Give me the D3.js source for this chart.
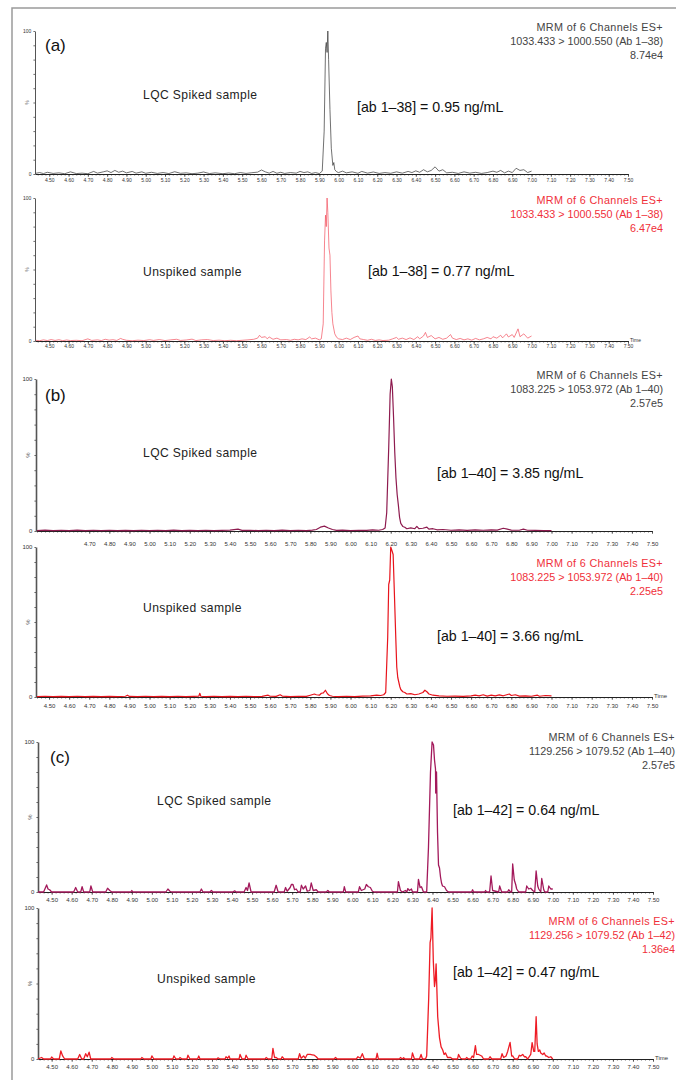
<!DOCTYPE html>
<html>
<head>
<meta charset="utf-8">
<script src="https://d3js.org/d3.v7.min.js"></script>
<style>
  body { margin: 0; background: #fff; }
  svg text { font-family: "Liberation Sans", Arial, sans-serif; }
  .tick text { fill: #333; }
</style>
</head>
<body>
<script>
// ---------- data: [time (min), intensity %] ----------
var xTicks = [4.5, 4.6, 4.7, 4.8, 4.9, 5.0, 5.1, 5.2, 5.3, 5.4, 5.5, 5.6, 5.7, 5.8, 5.9,
              6.0, 6.1, 6.2, 6.3, 6.4, 6.5, 6.6, 6.7, 6.8, 6.9, 7.0, 7.1, 7.2, 7.3, 7.4, 7.5];

var aSpiked = [[4.43,0.5],[4.45,1],[4.47,0.3],[4.49,1.2],[4.52,0.4],[4.55,0.8],[4.58,0.2],[4.61,1.5],[4.64,0.3],[4.67,0.6],
  [4.70,0.2],[4.73,1.8],[4.75,0.6],[4.78,1.5],[4.80,2.2],[4.82,1.0],[4.84,2.5],[4.86,1.2],[4.88,2.0],[4.90,0.8],
  [4.93,1.8],[4.95,0.6],[4.98,1.5],[5.00,0.5],[5.03,1.2],[5.06,0.4],[5.09,1.0],[5.12,0.3],[5.15,1.6],[5.18,0.5],
  [5.21,0.8],[5.24,0.2],[5.27,0.6],[5.30,1.4],[5.33,0.3],[5.36,0.8],[5.40,0.2],[5.43,0.7],[5.46,0.2],[5.49,1.0],
  [5.52,0.4],[5.55,0.9],[5.58,1.3],[5.60,2.8],[5.62,1.5],[5.64,0.6],[5.66,1.8],[5.68,0.5],[5.70,1.2],[5.72,0.4],
  [5.75,1.0],[5.78,0.6],[5.80,1.8],[5.82,1.0],[5.84,1.5],[5.86,0.4],[5.88,1.0],[5.90,0.3],[5.915,2],[5.925,30],
  [5.932,88],[5.936,92],[5.94,85],[5.944,100],[5.948,80],[5.955,45],[5.962,18],[5.97,6],[5.975,8],[5.98,3],
  [5.99,1.5],[6.00,1.0],[6.02,2.0],[6.04,0.8],[6.07,1.5],[6.10,0.5],[6.12,1.8],[6.15,0.6],[6.18,1.4],[6.21,0.4],
  [6.24,1.0],[6.27,0.5],[6.30,1.5],[6.33,0.6],[6.36,1.8],[6.38,1.0],[6.40,2.2],[6.42,1.2],[6.44,3.0],[6.46,1.5],
  [6.48,2.5],[6.50,5.0],[6.52,2.0],[6.54,3.0],[6.56,0.8],[6.59,1.2],[6.62,0.4],[6.65,1.5],[6.68,0.6],[6.71,1.2],
  [6.74,0.4],[6.77,1.0],[6.80,2.0],[6.82,1.2],[6.84,2.5],[6.86,0.8],[6.88,2.0],[6.90,1.0],[6.92,4.0],[6.94,2.5],
  [6.96,3.0],[6.98,1.0],[7.00,2.0]];

var aUnspiked = [[4.43,0.5],[4.45,0.2],[4.47,0.8],[4.49,0.3],[4.51,1.0],[4.53,0.4],[4.55,0.9],[4.57,0.2],[4.59,0.7],[4.61,0.3],
  [4.64,0.5],[4.67,0.2],[4.70,1.5],[4.72,0.4],[4.75,0.8],[4.77,0.3],[4.79,1.2],[4.81,0.6],[4.83,0.9],[4.85,0.4],
  [4.87,1.8],[4.88,1.2],[4.90,0.5],[4.93,0.2],[4.96,0.6],[4.99,0.3],[5.02,0.9],[5.04,0.4],[5.07,1.0],[5.10,0.3],
  [5.13,0.8],[5.16,1.2],[5.18,0.4],[5.21,0.7],[5.24,1.3],[5.26,0.3],[5.29,0.8],[5.32,1.0],[5.35,0.3],[5.38,0.6],
  [5.41,0.2],[5.44,0.5],[5.47,0.2],[5.50,0.5],[5.53,0.8],[5.56,1.2],[5.58,2.0],[5.59,4.0],[5.60,2.5],[5.62,3.0],
  [5.63,1.5],[5.64,2.8],[5.66,1.2],[5.68,2.0],[5.70,0.8],[5.73,1.0],[5.75,0.5],[5.77,1.2],[5.79,0.8],[5.81,1.5],
  [5.83,1.0],[5.85,2.8],[5.86,1.5],[5.88,2.0],[5.90,0.8],[5.91,1.5],[5.92,12],[5.927,70],[5.932,88],[5.936,80],
  [5.94,100],[5.944,90],[5.95,65],[5.955,60],[5.96,35],[5.965,20],[5.97,12],[5.98,5],[5.99,2.5],[6.00,1.5],
  [6.02,1.0],[6.04,2.0],[6.06,1.0],[6.08,2.5],[6.10,3.5],[6.11,1.5],[6.13,1.0],[6.15,0.5],[6.17,1.2],[6.19,0.4],
  [6.21,0.8],[6.23,0.3],[6.26,0.6],[6.28,1.5],[6.30,2.5],[6.31,1.2],[6.33,2.0],[6.35,1.0],[6.37,2.2],[6.39,1.0],
  [6.41,3.0],[6.42,1.5],[6.44,3.5],[6.45,6.0],[6.46,2.5],[6.48,3.8],[6.50,1.5],[6.52,2.5],[6.54,1.2],[6.56,2.0],
  [6.58,4.5],[6.59,2.0],[6.61,1.0],[6.63,1.8],[6.65,0.8],[6.67,1.5],[6.69,0.6],[6.71,1.8],[6.73,0.8],[6.75,1.5],
  [6.77,2.5],[6.79,1.5],[6.80,3.0],[6.82,2.0],[6.84,4.0],[6.85,2.2],[6.87,5.0],[6.88,2.8],[6.90,4.5],[6.91,2.5],
  [6.93,8.5],[6.94,3.0],[6.96,5.0],[6.98,2.0],[7.00,3.5]];

var bSpiked = [[4.44,0.3],[4.48,0.6],[4.52,0.2],[4.56,0.5],[4.60,0.2],[4.64,0.6],[4.68,0.3],[4.72,0.5],[4.76,0.2],[4.80,0.5],
  [4.84,0.3],[4.88,0.4],[4.92,0.2],[4.96,0.5],[5.00,0.3],[5.04,0.5],[5.08,0.2],[5.12,0.6],[5.16,0.3],[5.20,0.4],
  [5.24,0.2],[5.28,0.5],[5.32,0.3],[5.36,0.4],[5.40,0.6],[5.44,1.2],[5.46,0.4],[5.50,0.5],[5.54,0.2],[5.58,0.5],
  [5.62,0.3],[5.66,0.6],[5.70,0.2],[5.74,0.5],[5.78,0.3],[5.81,0.6],[5.83,1.0],[5.85,2.5],[5.87,3.2],[5.89,2.0],
  [5.91,1.0],[5.93,0.4],[5.96,0.6],[6.00,0.3],[6.04,0.5],[6.08,0.4],[6.11,0.8],[6.14,0.5],[6.16,1.0],[6.172,2.0],
  [6.18,12],[6.19,55],[6.197,90],[6.203,100],[6.208,95],[6.214,75],[6.22,52],[6.226,35],[6.232,24],[6.238,17],
  [6.244,9],[6.25,5],[6.26,3.0],[6.27,2.5],[6.28,1.5],[6.30,2.0],[6.32,1.5],[6.33,3.0],[6.34,1.5],[6.36,1.8],
  [6.38,2.5],[6.39,1.2],[6.41,1.5],[6.43,0.8],[6.46,1.0],[6.50,0.5],[6.54,0.8],[6.58,0.4],[6.62,0.7],[6.66,0.5],
  [6.70,0.8],[6.73,0.6],[6.76,1.8],[6.78,1.2],[6.80,0.6],[6.84,0.5],[6.86,1.2],[6.88,0.5],[6.92,0.4],[6.96,0.3],
  [7.00,0.3]];

var bUnspiked = [[4.44,0.2],[4.48,0.5],[4.52,0.2],[4.56,0.4],[4.60,0.2],[4.64,0.5],[4.68,0.3],[4.72,0.4],[4.76,0.2],[4.80,0.4],
  [4.84,0.2],[4.88,0.5],[4.89,1.2],[4.90,0.4],[4.94,0.3],[4.98,0.5],[5.02,0.2],[5.06,0.4],[5.10,0.3],[5.14,0.5],
  [5.18,0.2],[5.22,0.4],[5.245,0.5],[5.25,2.5],[5.255,0.5],[5.28,0.3],[5.32,0.5],[5.36,0.2],[5.40,0.4],[5.44,0.2],
  [5.48,0.5],[5.52,0.3],[5.56,0.4],[5.59,1.2],[5.60,0.5],[5.63,0.4],[5.65,1.5],[5.66,0.6],[5.70,0.3],[5.74,0.5],
  [5.78,0.4],[5.80,1.2],[5.82,2.0],[5.83,1.5],[5.845,1.2],[5.855,2.5],[5.865,2.8],[5.875,4.5],[5.885,2.2],[5.895,1.0],
  [5.91,0.5],[5.94,0.3],[5.98,0.5],[6.02,0.3],[6.06,0.6],[6.10,0.8],[6.13,1.2],[6.15,1.0],[6.165,1.5],[6.175,3],
  [6.185,40],[6.19,75],[6.195,78],[6.20,100],[6.205,98],[6.212,95],[6.218,70],[6.225,40],[6.23,20],[6.235,13],
  [6.24,10],[6.245,7],[6.25,5],[6.26,3.5],[6.27,3.0],[6.28,2.0],[6.30,2.2],[6.32,1.5],[6.34,2.0],[6.36,3.0],
  [6.37,4.5],[6.38,3.5],[6.39,2.0],[6.41,1.2],[6.44,0.8],[6.48,0.5],[6.52,0.6],[6.56,0.4],[6.60,0.8],[6.62,1.2],
  [6.64,0.8],[6.66,1.5],[6.68,0.6],[6.70,1.2],[6.72,0.8],[6.74,1.4],[6.76,0.8],[6.79,2.0],[6.80,1.0],[6.82,1.5],
  [6.84,0.6],[6.87,0.8],[6.90,0.5],[6.93,1.2],[6.94,0.5],[6.97,1.0],[7.00,0.8]];

var cSpiked = [[4.432,0],[4.46,0],[4.468,2.5],[4.475,4.7],[4.482,2],[4.49,1.5],[4.50,0],[4.61,0],[4.62,3],[4.63,0],
  [4.645,0],[4.652,3.5],[4.66,0],[4.69,0],[4.696,4],[4.705,0],[4.77,0],[4.779,2.5],[4.79,1],[4.80,0],
  [4.895,0],[4.90,1],[4.905,0],[5.07,0],[5.08,2],[5.09,0.5],[5.10,0],[5.24,0],[5.247,2],[5.255,0],
  [5.29,0],[5.297,1],[5.305,0],[5.405,0],[5.413,0.8],[5.42,0],[5.46,0],[5.47,3],[5.477,1],[5.485,6],
  [5.495,0],[5.61,0],[5.62,4.5],[5.63,0],[5.66,0],[5.667,3],[5.675,0.5],[5.69,3],[5.696,5],[5.704,5],
  [5.712,1.5],[5.72,2],[5.73,0],[5.74,0],[5.746,4.5],[5.755,2],[5.767,4],[5.775,0.5],[5.788,1],[5.795,6],
  [5.805,1],[5.82,1.5],[5.83,0],[5.87,0],[5.878,1],[5.885,0],[5.955,0],[5.96,3.5],[5.967,0],[6.03,0],
  [6.036,3.5],[6.045,1],[6.062,2],[6.07,5],[6.08,3.5],[6.09,3],[6.10,0.5],[6.11,0],[6.225,0],[6.23,6.9],
  [6.24,1],[6.25,0],[6.265,1],[6.272,0],[6.277,2.3],[6.285,1],[6.295,2],[6.30,0],[6.325,0],[6.33,8.4],
  [6.338,3],[6.345,3.5],[6.355,0],[6.371,0],[6.38,30],[6.39,80],[6.398,100],[6.405,98],[6.41,88],[6.415,82],
  [6.416,66],[6.42,80],[6.425,40],[6.43,18],[6.435,16],[6.44,10],[6.445,6],[6.45,4],[6.46,3.5],[6.47,1],
  [6.48,0],[6.595,0],[6.60,1.5],[6.605,0],[6.66,0],[6.665,1],[6.67,0],[6.685,0],[6.692,10.7],[6.70,1],
  [6.73,0],[6.735,4],[6.745,0],[6.775,0],[6.78,1.5],[6.79,0],[6.795,0],[6.80,18.7],[6.808,8],[6.815,5],
  [6.82,2],[6.83,0],[6.865,0],[6.87,4],[6.88,2],[6.89,2.5],[6.90,1],[6.91,0],[6.917,14],[6.925,4],
  [6.93,2],[6.94,0],[6.945,9],[6.955,1.5],[6.96,0],[6.975,0],[6.98,4],[6.99,2],[7.00,2]];

var cUnspiked = [[4.432,0],[4.44,0.5],[4.45,1.0],[4.46,0],[4.495,0],[4.50,1.3],[4.51,0],[4.538,0],[4.546,5.3],[4.555,2],
  [4.565,0],[4.63,0],[4.64,3],[4.65,0],[4.66,0],[4.67,3.5],[4.678,1.5],[4.687,4.5],[4.695,0],[4.795,0],
  [4.80,1],[4.81,0],[4.945,0],[4.95,1],[4.96,0],[4.995,0],[5.00,2],[5.01,0],[5.105,0],[5.11,2],
  [5.12,0],[5.135,0],[5.14,1],[5.15,0],[5.175,0],[5.18,2.5],[5.19,0],[5.228,0],[5.234,2],[5.24,0],
  [5.325,0],[5.33,0.8],[5.34,0],[5.365,0],[5.37,1.5],[5.378,0.5],[5.385,2],[5.39,0],[5.435,0],[5.44,3],
  [5.45,0],[5.465,0],[5.47,2.5],[5.48,0],[5.565,0],[5.57,1],[5.58,0],[5.598,0],[5.604,7],[5.612,1],
  [5.62,1],[5.63,0],[5.645,0],[5.65,1.5],[5.66,0],[5.73,0],[5.737,3.5],[5.745,0.5],[5.757,2],[5.765,0.5],
  [5.775,3],[5.79,3],[5.80,2.8],[5.81,2.5],[5.82,1.5],[5.83,0],[5.91,0],[5.916,1],[5.925,0],[6.02,0],
  [6.028,1.5],[6.04,0.5],[6.05,3.5],[6.06,0],[6.118,0],[6.124,3.8],[6.13,0],[6.235,0],[6.24,1],[6.25,0],
  [6.256,0.8],[6.262,0],[6.295,0],[6.30,4],[6.31,0],[6.335,0],[6.343,3],[6.35,0],[6.365,0],[6.371,2],
  [6.381,40],[6.388,77],[6.392,80],[6.398,100],[6.404,65],[6.41,48],[6.414,52],[6.418,63],[6.426,28],[6.435,14],
  [6.443,8],[6.451,6],[6.458,3],[6.465,4],[6.475,1],[6.49,1],[6.50,0],[6.525,0],[6.53,3],[6.54,0.5],
  [6.55,0],[6.565,0],[6.57,1],[6.58,0],[6.59,0],[6.598,2],[6.605,1],[6.614,8.8],[6.62,3],[6.63,3],
  [6.645,2],[6.655,0],[6.68,0],[6.687,1.5],[6.695,0],[6.74,0],[6.747,3.5],[6.755,1],[6.767,2],[6.775,5],
  [6.787,11],[6.795,2],[6.80,2],[6.81,0],[6.825,0],[6.833,2.5],[6.84,2],[6.85,3],[6.858,1.5],[6.865,1.5],
  [6.875,0],[6.89,3],[6.897,10.8],[6.905,5],[6.91,5],[6.917,28],[6.922,10],[6.928,5],[6.935,6],[6.94,4],
  [6.95,3],[6.957,4],[6.965,2],[6.97,2],[6.98,1],[6.99,1.5],[7.00,0]];

var headerTitle = "MRM of 6 Channels ES+";
var transitions = ["1033.433 > 1000.550 (Ab 1\u201338)", "1033.433 > 1000.550 (Ab 1\u201338)",
                   "1083.225 > 1053.972 (Ab 1\u201340)", "1083.225 > 1053.972 (Ab 1\u201340)",
                   "1129.256 > 1079.52 (Ab 1\u201340)", "1129.256 > 1079.52 (Ab 1\u201342)"];
var intensities = ["8.74e4", "6.47e4", "2.57e5", "2.25e5", "2.57e5", "1.36e4"];
var sampleNames = ["LQC Spiked sample", "Unspiked sample", "LQC Spiked sample", "Unspiked sample",
                   "LQC Spiked sample", "Unspiked sample"];
var concLabels = ["[ab 1\u201338] = 0.95 ng/mL", "[ab 1\u201338] = 0.77 ng/mL",
                  "[ab 1\u201340] = 3.85 ng/mL", "[ab 1\u201340] = 3.66 ng/mL",
                  "[ab 1\u201342] = 0.64 ng/mL", "[ab 1\u201342] = 0.47 ng/mL"];
var panelTags = ["(a)", null, "(b)", null, "(c)", null];
var traces = [aSpiked, aUnspiked, bSpiked, bUnspiked, cSpiked, cUnspiked];

// ---------- layout ----------
var layout = [
  {x0: 35, x1: 628, t0: 4.426, y100: 31,  yZero: 174,  lblDy: 7,  fs: 5,   hx: 663, hy: 31,  sx: 143, sy: 99,  cx: 357, cy: 112, tagX: 45, tagY: 51,  line: "#333",    w: 0.7, head: "#444", ticksFrom: 4.5, time: false},
  {x0: 35, x1: 628, t0: 4.426, y100: 198, yZero: 341,  lblDy: 6,  fs: 5,   hx: 663, hy: 204, sx: 143, sy: 276, cx: 368, cy: 276, line: "#f2505e", w: 0.7, head: "#f0303a", ticksFrom: 4.5, time: true},
  {x0: 36, x1: 652, t0: 4.435, y100: 379, yZero: 531,  lblDy: 13, fs: 6,   hx: 663, hy: 379, sx: 143, sy: 457, cx: 437, cy: 478, tagX: 45, tagY: 401, line: "#8e1b4f", w: 1.2, head: "#444", ticksFrom: 4.7, time: false},
  {x0: 36, x1: 652, t0: 4.435, y100: 547, yZero: 697,  lblDy: 9,  fs: 6,   hx: 663, hy: 567, sx: 143, sy: 612, cx: 437, cy: 641, line: "#e8141c", w: 1.2, head: "#f0303a", ticksFrom: 4.5, time: true},
  {x0: 38, x1: 653, t0: 4.432, y100: 742, yZero: 892,  lblDy: 8,  fs: 6,   hx: 675, hy: 741, sx: 157, sy: 805, cx: 453, cy: 815, tagX: 50, tagY: 763, line: "#a3195b", w: 1.3, head: "#444", ticksFrom: 4.5, time: false},
  {x0: 38, x1: 653, t0: 4.432, y100: 908, yZero: 1059, lblDy: 8,  fs: 6,   hx: 675, hy: 925, sx: 157, sy: 983, cx: 453, cy: 977, line: "#ee1c25", w: 1.3, head: "#f0303a", ticksFrom: 4.5, time: true}
];

var svg = d3.select("body").append("svg")
  .attr("width", 676)
  .attr("height", 1080);

// outer frame (top and left edges visible)
svg.append("path")
  .attr("d", "M12,1080 L12,8 L676,8")
  .attr("fill", "none")
  .attr("stroke", "#9a9a9a")
  .attr("stroke-width", 1.5);

layout.forEach(function(p, i) {
  var g = svg.append("g");
  var x = d3.scaleLinear().domain([p.t0, 7.5]).range([p.x0, p.x1]);
  var y = d3.scaleLinear().domain([0, 100]).range([p.yZero, p.y100]);

  // minor x ticks
  var minor = d3.range(4.44, 7.501, 0.02);
  g.append("g")
    .attr("transform", "translate(0," + p.yZero + ")")
    .call(d3.axisBottom(x).tickValues(minor).tickSize(1.6).tickFormat("").tickSizeOuter(0))
    .call(function(s) { s.select(".domain").remove(); s.selectAll("line").attr("stroke", "#333").attr("stroke-width", 0.6); });

  // major x ticks + labels
  var ax = g.append("g")
    .attr("transform", "translate(0," + p.yZero + ")")
    .call(d3.axisBottom(x)
      .tickValues(xTicks.filter(function(t) { return t >= p.ticksFrom - 1e-9; }))
      .tickSize(2.8).tickSizeOuter(0).tickPadding(p.lblDy - 5)
      .tickFormat(d3.format(".2f")));
  ax.select(".domain").attr("stroke", "#222").attr("stroke-width", 1);
  ax.selectAll("line").attr("stroke", "#222").attr("stroke-width", 0.7);
  ax.selectAll("text").attr("font-size", p.fs).attr("fill", "#333");

  // y axis
  var ay = g.append("g")
    .attr("transform", "translate(" + p.x0 + ",0)")
    .call(d3.axisLeft(y).tickValues([0, 10, 20, 30, 40, 50, 60, 70, 80, 90, 100])
      .tickSize(1.6).tickSizeOuter(0).tickFormat(function(d) { return (d === 0 || d === 100) ? d : ""; })
      .tickPadding(2));
  ay.select(".domain").attr("stroke", "#555").attr("stroke-width", i >= 2 ? 1.6 : 1);
  ay.selectAll("line").attr("stroke", "#333").attr("stroke-width", 0.7);
  ay.selectAll("text").attr("font-size", p.fs).attr("fill", "#333");

  g.append("text")
    .attr("transform", "translate(" + (p.x0 - 6) + "," + y(50) + ") rotate(-90)")
    .attr("text-anchor", "middle")
    .attr("font-size", p.fs)
    .attr("fill", "#555")
    .text("%");

  if (p.time) {
    g.append("text")
      .attr("x", p.x1 + 2)
      .attr("y", p.yZero + 1)
      .attr("font-size", p.fs)
      .attr("fill", "#333")
      .text("Time");
  }

  // trace
  var line = d3.line()
    .x(function(d) { return x(d[0]); })
    .y(function(d) { return y(d[1]); });
  g.append("path")
    .datum(traces[i])
    .attr("d", line)
    .attr("fill", "none")
    .attr("stroke", p.line)
    .attr("stroke-width", p.w)
    .attr("stroke-linejoin", "round");

  // header
  var head = g.append("text")
    .attr("text-anchor", "end")
    .attr("font-size", 10.8)
    .attr("fill", p.head);
  [headerTitle, transitions[i], intensities[i]].forEach(function(s, k) {
    head.append("tspan")
      .attr("x", p.hx).attr("y", p.hy + k * 13.8)
      .attr("letter-spacing", k === 0 ? 0.35 : 0)
      .text(s);
  });

  g.append("text")
    .attr("x", p.sx).attr("y", p.sy)
    .attr("font-size", 12.1)
    .attr("letter-spacing", 0.4)
    .attr("fill", "#222")
    .text(sampleNames[i]);

  g.append("text")
    .attr("x", p.cx).attr("y", p.cy)
    .attr("font-size", 14.2)
    .attr("fill", "#111")
    .text(concLabels[i]);

  if (panelTags[i]) {
    g.append("text")
      .attr("x", p.tagX).attr("y", p.tagY)
      .attr("font-size", 17)
      .attr("fill", "#111")
      .text(panelTags[i]);
  }
});
</script>
</body>
</html>
